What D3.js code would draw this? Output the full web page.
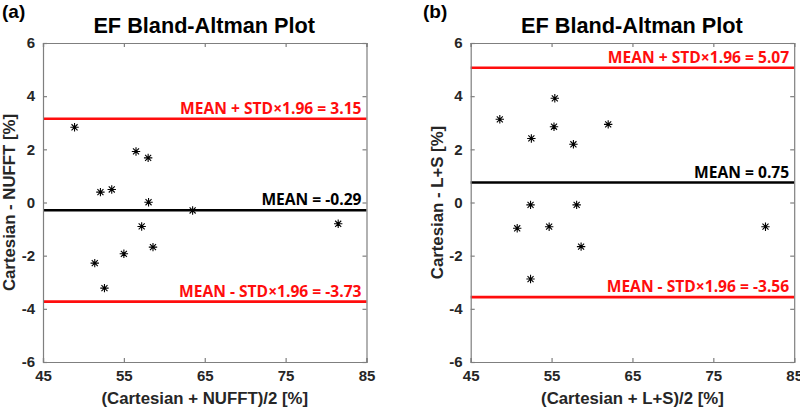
<!DOCTYPE html>
<html><head><meta charset="utf-8">
<script src="https://cdn.jsdelivr.net/npm/d3@7"></script>
<style>
body{margin:0;background:#fff;}
svg{display:block;}
text{font-family:"Liberation Sans",Arial,sans-serif;}
</style></head>
<body><svg id="c" width="800" height="411"></svg>
<script>
// ---- data ----
const xTicks = [45, 55, 65, 75, 85];
const yTicks = [-6, -4, -2, 0, 2, 4, 6];
const panelLetters = ["(a)", "(b)"];
const titles = ["EF Bland-Altman Plot", "EF Bland-Altman Plot"];
const xLabels = ["(Cartesian + NUFFT)/2 [%]", "(Cartesian + L+S)/2 [%]"];
const yLabels = ["Cartesian - NUFFT [%]", "Cartesian - L+S [%]"];
// panel (a): mean of methods, difference
const meanA = [48.9, 52.1, 53.5, 56.5, 58.0, 58.05, 63.5, 81.5, 57.2, 58.6, 55.0, 51.4, 52.6];
const diffA = [2.83, 0.39, 0.49, 1.92, 1.68, 0.01, -0.30, -0.80, -0.90, -1.68, -1.93, -2.28, -3.22];
// panel (b)
const meanB = [48.6, 52.5, 55.4, 55.3, 57.7, 62.0, 52.4, 58.1, 50.75, 54.7, 58.65, 52.4, 81.45];
const diffB = [3.13, 2.41, 3.92, 2.85, 2.19, 2.94, -0.09, -0.09, -0.97, -0.91, -1.66, -2.88, -0.91];
// limits: [mean+1.96sd, mean, mean-1.96sd]
const limitsA = [3.15, -0.29, -3.73];
const limitsB = [5.07, 0.75, -3.56];
const limitNames = ["MEAN + STD×1.96 = ", "MEAN = ", "MEAN - STD×1.96 = "];

const panels = [
  {x0: 43, lx: 2, meanV: meanA, diffV: diffA, lim: limitsA},
  {x0: 470.7, lx: 423, meanV: meanB, diffV: diffB, lim: limitsB}
];
const W = 323.5, plotTop = 43, plotBottom = 362;
const svg = d3.select("#c");
const axisCol = "#7f7f7f", txtCol = "#262626";
const hy = f => v => f(v).replace("\u2212", "-");
const fmtInt = hy(d3.format("d")), fmt2 = hy(d3.format(".2f"));

panels.forEach((p, i) => {
  const x = d3.scaleLinear().domain([45, 85]).range([p.x0, p.x0 + W]);
  const y = d3.scaleLinear().domain([-6, 6]).range([plotBottom, plotTop]);
  const g = svg.append("g");

  // limit lines
  const limColors = ["#ff0d0d", "#000", "#ff0d0d"];
  p.lim.forEach((v, k) => {
    g.append("line").attr("x1", x(45)).attr("x2", x(85)).attr("y1", y(v)).attr("y2", y(v))
      .attr("stroke", limColors[k]).attr("stroke-width", 2.6);
  });

  // axes (box with inward ticks)
  const ax = [
    d3.axisBottom(x).tickValues(xTicks).tickSize(-4).tickPadding(8).tickFormat(fmtInt),
    d3.axisTop(x).tickValues(xTicks).tickSize(-4).tickFormat(""),
    d3.axisLeft(y).tickValues(yTicks).tickSize(-4).tickPadding(8).tickFormat(fmtInt),
    d3.axisRight(y).tickValues(yTicks).tickSize(-4).tickFormat("")
  ];
  const trans = [`translate(0,${plotBottom})`, `translate(0,${plotTop})`, `translate(${x(45)},0)`, `translate(${x(85)},0)`];
  ax.forEach((a, k) => {
    const ag = g.append("g").attr("transform", trans[k]).call(a);
    ag.select(".domain").attr("stroke", axisCol).attr("stroke-width", 1.2);
    ag.selectAll(".tick line").attr("stroke", axisCol).attr("stroke-width", 1.2);
    ag.selectAll(".tick text").attr("fill", txtCol).style("font-size", "15px")
      .style("font-weight", "bold").style("font-family", "'Liberation Sans',Arial,sans-serif");
  });

  // markers (asterisks)
  const r = 4.2;
  const ast = (cx, cy) => {
    const d = r * 0.72;
    return `M${cx - r},${cy}L${cx + r},${cy}M${cx},${cy - r}L${cx},${cy + r}` +
      `M${cx - d},${cy - d}L${cx + d},${cy + d}M${cx - d},${cy + d}L${cx + d},${cy - d}`;
  };
  g.selectAll("path.pt").data(p.meanV.map((m, j) => [m, p.diffV[j]])).join("path")
    .attr("class", "pt").attr("d", d => ast(x(d[0]), y(d[1])))
    .attr("stroke", "#000").attr("stroke-width", 1.1).attr("fill", "none");

  // limit labels
  const labCols = ["#ff0d0d", "#000", "#ff0d0d"];
  p.lim.forEach((v, k) => {
    g.append("text").attr("x", x(85) - 5).attr("y", y(v) - 5).attr("text-anchor", "end")
      .attr("fill", labCols[k]).style("font-family", "'Open Sans',sans-serif")
      .style("font-weight", "bold").style("font-size", "15.6px")
      .text(limitNames[k] + fmt2(v));
  });

  // titles and labels
  const cx = (x(45) + x(85)) / 2;
  g.append("text").attr("x", cx - 0.5).attr("y", 33).attr("text-anchor", "middle")
    .attr("fill", "#000").style("font-weight", "bold").style("font-size", "21.7px").text(titles[i]);
  g.append("text").attr("x", p.lx).attr("y", 18)
    .attr("fill", "#000").style("font-weight", "bold").style("font-size", "19px").text(panelLetters[i]);
  g.append("text").attr("x", cx).attr("y", 404).attr("text-anchor", "middle")
    .attr("fill", txtCol).style("font-weight", "bold").style("font-size", "16.8px").text(xLabels[i]);
  g.append("text").attr("transform", `translate(${p.x0 - 28},${(plotTop + plotBottom) / 2}) rotate(-90)`)
    .attr("text-anchor", "middle").attr("fill", txtCol)
    .style("font-weight", "bold").style("font-size", "16.8px").text(yLabels[i]);
});
</script></body></html>
